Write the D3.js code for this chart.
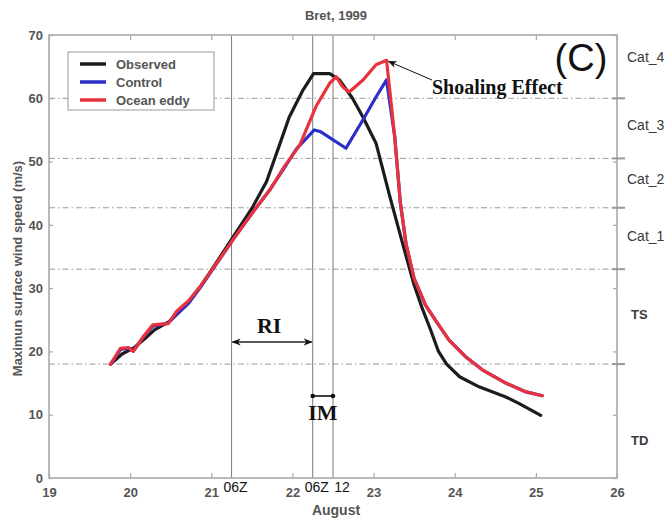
<!DOCTYPE html>
<html>
<head>
<meta charset="utf-8">
<script src="https://cdn.jsdelivr.net/npm/d3@7"></script>
<style>
  body { margin: 0; background: #fff; }
  svg { display: block; }
  text { font-family: "Liberation Sans", Arial, sans-serif; }
</style>
</head>
<body>
<svg id="chart" width="670" height="519"></svg>
<script>
// Hurricane Bret (1999): maximum surface wind speed, August days
const observed = [
  [19.76,18.0],[19.9,19.6],[20.05,20.6],[20.18,22.0],[20.3,23.4],[20.48,24.7],
  [20.68,27.2],[20.87,30.3],[21.02,33.2],[21.27,38.1],[21.5,42.6],[21.68,46.8],
  [21.84,52.6],[21.96,57.0],[22.13,61.3],[22.26,63.9],[22.46,63.9],[22.58,62.9],
  [22.74,60.0],[22.87,57.0],[23.03,52.9],[23.2,44.5],[23.38,36.0],[23.5,30.5],
  [23.6,26.8],[23.7,23.5],[23.8,20.0],[23.9,18.0],[24.06,16.0],[24.3,14.4],
  [24.63,12.8],[24.79,11.8],[25.06,9.9]
];
const control = [
  [19.76,18.0],[19.88,20.3],[19.98,20.5],[20.04,20.1],[20.16,22.2],[20.28,24.0],
  [20.47,24.5],[20.57,25.8],[20.72,27.6],[20.86,30.0],[21.02,33.0],[21.27,37.7],
  [21.5,41.8],[21.72,45.5],[21.9,49.0],[22.05,52.0],[22.27,55.0],[22.35,54.7],
  [22.66,52.1],[22.87,56.6],[23.03,60.2],[23.16,62.9],[23.26,54.0],[23.33,43.5],
  [23.4,37.0],[23.5,31.5],[23.64,27.3],[23.77,24.8],[23.93,21.8],[24.13,19.2],
  [24.34,17.1],[24.63,15.0],[24.88,13.6],[25.08,13.0]
];
const oceanEddy = [
  [19.76,18.0],[19.88,20.5],[19.98,20.6],[20.04,20.0],[20.16,22.3],[20.28,24.2],
  [20.47,24.4],[20.57,26.3],[20.72,28.0],[20.86,30.2],[21.02,33.1],[21.27,37.7],
  [21.5,41.8],[21.72,45.5],[21.9,49.2],[22.09,52.6],[22.29,58.7],[22.46,62.4],
  [22.54,63.4],[22.62,61.8],[22.7,61.0],[22.87,62.9],[23.03,65.3],[23.16,66.0],
  [23.26,54.0],[23.33,43.5],[23.4,37.0],[23.5,31.5],[23.64,27.3],[23.77,24.8],
  [23.93,21.8],[24.13,19.2],[24.34,17.1],[24.63,15.0],[24.88,13.6],[25.08,13.0]
];
const seriesNames = ["Observed", "Control", "Ocean eddy"];
const seriesColors = ["#1c1c1c", "#2b2fc8", "#e8323c"];

const dayTicks = [19, 20, 21, 22, 23, 24, 25, 26];
const speedTicks = [0, 10, 20, 30, 40, 50, 60, 70];
// Saffir-Simpson boundaries (m/s) and label positions
const categoryBounds = [18, 33, 42.7, 50.5, 60];
const categoryLabels = ["TD", "TS", "Cat_1", "Cat_2", "Cat_3", "Cat_4"];
const categoryLabelSpeed = [6.0, 25.9, 38.2, 47.3, 55.8, 66.5];
// Times marked with vertical lines
const markTimes = [21.25, 22.25, 22.5];
const markLabels = ["06Z", "06Z", "12"];

const svg = d3.select("#chart");
const m = { left: 49, right: 617, top: 35, bottom: 478 };
const x = d3.scaleLinear().domain([19, 26]).range([m.left, m.right]);
const y = d3.scaleLinear().domain([0, 70]).range([m.bottom, m.top]);

const gray = "#a9a9a9";
const tickText = "#555";

// category boundary lines (dash-dot)
svg.append("g").selectAll("line").data(categoryBounds).join("line")
  .attr("x1", m.left).attr("x2", m.right)
  .attr("y1", d => y(d)).attr("y2", d => y(d))
  .attr("stroke", "#9a9a9a").attr("stroke-width", 1)
  .attr("stroke-dasharray", "6,3,1.5,3");

// vertical time markers
svg.append("g").selectAll("line").data(markTimes).join("line")
  .attr("x1", d => x(d)).attr("x2", d => x(d))
  .attr("y1", m.top).attr("y2", m.bottom)
  .attr("stroke", "#7a7a7a").attr("stroke-width", 1);

// frame
svg.append("rect")
  .attr("x", m.left).attr("y", m.top)
  .attr("width", m.right - m.left).attr("height", m.bottom - m.top)
  .attr("fill", "none").attr("stroke", gray).attr("stroke-width", 1.6);

// axes
const xAxis = svg.append("g").attr("transform", `translate(0,${m.bottom})`)
  .call(d3.axisBottom(x).tickValues(dayTicks).tickFormat(d3.format("d")).tickSizeInner(-5).tickSizeOuter(0).tickPadding(10));
const xTop = svg.append("g").attr("transform", `translate(0,${m.top})`)
  .call(d3.axisTop(x).tickValues(dayTicks).tickFormat("").tickSizeInner(-5).tickSizeOuter(0));
const yAxis = svg.append("g").attr("transform", `translate(${m.left},0)`)
  .call(d3.axisLeft(y).tickValues(speedTicks).tickFormat(d3.format("d")).tickSizeInner(-4).tickSizeOuter(0).tickPadding(6));
const yRight = svg.append("g").attr("transform", `translate(${m.right},0)`)
  .call(d3.axisRight(y).tickValues(speedTicks).tickFormat("").tickSizeInner(-4).tickSizeOuter(0));
[xAxis, xTop, yAxis, yRight].forEach(g => {
  g.select(".domain").remove();
  g.selectAll(".tick line").attr("stroke", gray).attr("stroke-width", 1.2);
  g.selectAll(".tick text").attr("fill", tickText)
    .style("font-size", "13px").style("font-weight", "bold")
    .style("font-family", "'Liberation Sans', Arial, sans-serif");
});
yAxis.selectAll(".tick text").attr("dy", "0.32em");

// category ticks crossing the right frame
svg.append("g").selectAll("line").data(categoryBounds).join("line")
  .attr("x1", m.right - 5).attr("x2", m.right + 8)
  .attr("y1", d => y(d)).attr("y2", d => y(d))
  .attr("stroke", "#999").attr("stroke-width", 2);

svg.append("g").selectAll("text").data(categoryLabels).join("text")
  .attr("x", (d, i) => i < 2 ? m.right + 14 : m.right + 10)
  .attr("y", (d, i) => y(categoryLabelSpeed[i]))
  .attr("dy", "0.35em")
  .attr("fill", "#3a3a3a")
  .style("font-size", (d, i) => i < 2 ? "13px" : "14px")
  .style("font-weight", (d, i) => i < 2 ? "bold" : "normal")
  .text(d => d);

// time marker labels
svg.append("g").selectAll("text").data(markLabels).join("text")
  .attr("x", (d, i) => i === 2 ? x(markTimes[i]) + 9 : x(markTimes[i]) + 4)
  .attr("y", m.bottom + 14)
  .attr("text-anchor", "middle")
  .attr("fill", "#111")
  .style("font-size", "14px")
  .text(d => d);

// title and axis titles
svg.append("text").attr("x", 336).attr("y", 20).attr("text-anchor", "middle")
  .attr("fill", tickText).style("font-size", "13px").style("font-weight", "bold")
  .text("Bret, 1999");
svg.append("text").attr("x", 336).attr("y", 515).attr("text-anchor", "middle")
  .attr("fill", tickText).style("font-size", "14px").style("font-weight", "bold")
  .text("August");
svg.append("text")
  .attr("transform", `translate(22,${(m.top + m.bottom) / 2 + 12}) rotate(-90)`)
  .attr("text-anchor", "middle")
  .attr("fill", tickText).style("font-size", "13px").style("font-weight", "bold")
  .text("Maximun surface wind speed (m/s)");

// series lines
const line = d3.line().x(d => x(d[0])).y(d => y(d[1])).curve(d3.curveLinear);
[observed, control, oceanEddy].forEach((s, i) => {
  svg.append("path").datum(s)
    .attr("d", line)
    .attr("fill", "none")
    .attr("stroke", seriesColors[i])
    .attr("stroke-width", 3.2)
    .attr("stroke-linejoin", "round")
    .attr("stroke-linecap", "round");
});

// legend
const lg = svg.append("g");
lg.append("rect").attr("x", 68).attr("y", 52).attr("width", 146).attr("height", 58)
  .attr("fill", "#fff").attr("stroke", "#aaa").attr("stroke-width", 1.2);
seriesNames.forEach((name, i) => {
  const yy = 64 + i * 18;
  lg.append("line").attr("x1", 80).attr("x2", 106).attr("y1", yy).attr("y2", yy)
    .attr("stroke", seriesColors[i]).attr("stroke-width", 3.5);
  lg.append("text").attr("x", 116).attr("y", yy).attr("dy", "0.35em")
    .attr("fill", tickText).style("font-size", "13px").style("font-weight", "bold")
    .text(name);
});

// panel label
svg.append("text").attr("x", 581).attr("y", 71).attr("text-anchor", "middle")
  .attr("fill", "#111").style("font-size", "38px")
  .text("(C)");

// arrow markers
const defs = svg.append("defs");
defs.append("marker").attr("id", "head").attr("viewBox", "0 0 10 10")
  .attr("refX", 9).attr("refY", 5).attr("markerWidth", 9).attr("markerHeight", 9)
  .attr("orient", "auto-start-reverse").attr("markerUnits", "userSpaceOnUse")
  .append("path").attr("d", "M0,1 L10,5 L0,9 L3,5 Z").attr("fill", "#111");

// Shoaling Effect annotation pointing at the ocean-eddy peak
const peak = oceanEddy.reduce((a, b) => b[1] > a[1] ? b : a);
const serif = "'Liberation Serif', 'Times New Roman', serif";
svg.append("text").attr("x", 432).attr("y", 94)
  .attr("fill", "#111").style("font-family", serif).style("font-size", "20px").style("font-weight", "bold")
  .text("Shoaling Effect");
svg.append("line").attr("x1", 432).attr("y1", 80).attr("x2", x(peak[0]) + 2).attr("y2", y(peak[1]) + 1)
  .attr("stroke", "#111").attr("stroke-width", 1).attr("marker-end", "url(#head)");

// RI: rapid intensification between first two markers
const riY = 342;
svg.append("line").attr("x1", x(markTimes[0]) + 1).attr("x2", x(markTimes[1]) - 1)
  .attr("y1", riY).attr("y2", riY)
  .attr("stroke", "#222").attr("stroke-width", 1.4)
  .attr("marker-start", "url(#head)").attr("marker-end", "url(#head)");
svg.append("text").attr("x", (x(markTimes[0]) + x(markTimes[1])) / 2 - 3).attr("y", 333)
  .attr("text-anchor", "middle").attr("fill", "#111")
  .style("font-family", serif).style("font-size", "22px").style("font-weight", "bold")
  .text("RI");

// IM: intensity maximum between last two markers
const imY = 396;
svg.append("line").attr("x1", x(markTimes[1])).attr("x2", x(markTimes[2]))
  .attr("y1", imY).attr("y2", imY).attr("stroke", "#111").attr("stroke-width", 1.6);
svg.append("g").selectAll("circle").data([markTimes[1], markTimes[2]]).join("circle")
  .attr("cx", d => x(d)).attr("cy", imY).attr("r", 2.3).attr("fill", "#111");
svg.append("text").attr("x", (x(markTimes[1]) + x(markTimes[2])) / 2).attr("y", 420)
  .attr("text-anchor", "middle").attr("fill", "#111")
  .style("font-family", serif).style("font-size", "22px").style("font-weight", "bold")
  .text("IM");
</script>
</body>
</html>
